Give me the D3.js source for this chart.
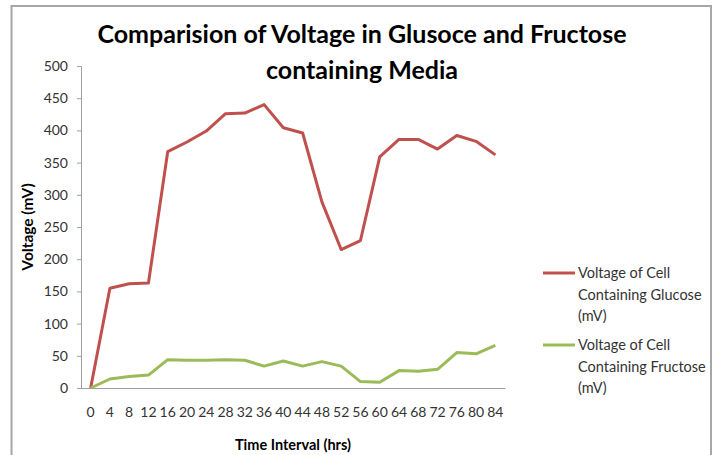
<!DOCTYPE html>
<html>
<head>
<meta charset="utf-8">
<script src="https://cdn.jsdelivr.net/npm/d3@7"></script>
<style>
  html, body { margin: 0; padding: 0; background: #fff; }
  svg { display: block; }
  text { font-family: Lato, "Open Sans", sans-serif; }
</style>
</head>
<body>
<svg id="chart" width="717" height="455"></svg>
<script>
const hours = [0, 4, 8, 12, 16, 20, 24, 28, 32, 36, 40, 44, 48, 52, 56, 60, 64, 68, 72, 76, 80, 84];
const glucose = [0, 155, 162, 163, 367, 382, 399, 426, 427, 440, 404, 396, 289, 215, 229, 359, 386, 386, 371, 392, 383, 362];
const fructose = [0, 14, 18, 20, 44, 43, 43, 44, 43, 34, 42, 34, 41, 34, 10, 9, 27, 26, 29, 55, 53, 66];
const yTicks = [0, 50, 100, 150, 200, 250, 300, 350, 400, 450, 500];
const seriesNames = ["Voltage of Cell Containing Glucose (mV)", "Voltage of Cell Containing Fructose (mV)"];
const seriesLegendLines = [["Voltage of Cell", "Containing Glucose", "(mV)"], ["Voltage of Cell", "Containing Fructose", "(mV)"]];
const colors = ["#C0504D", "#9BBB59"];
const titleLines = ["Comparision of Voltage in Glusoce and Fructose", "containing Media"];

const svg = d3.select("#chart");

// outer border (top, left, right)
svg.append("path")
  .attr("d", "M11.5,460 L11.5,6 L711,6 L711,460")
  .attr("fill", "none").attr("stroke", "#a6a6a6").attr("stroke-width", 2);

const plot = { left: 81, right: 505, top: 66, bottom: 388 };

const x = d3.scaleBand().domain(hours).range([plot.left, plot.right]);
const y = d3.scaleLinear().domain([0, 500]).range([plot.bottom, plot.top]);

// y axis
const yAxis = d3.axisLeft(y).tickValues(yTicks).tickSize(4).tickPadding(9);
const gy = svg.append("g").attr("transform", `translate(${plot.left},0)`).call(yAxis);
gy.select(".domain").attr("stroke", "#a0a0a0");
gy.selectAll(".tick line").attr("stroke", "#a0a0a0");
gy.selectAll(".tick text").attr("font-size", 14).attr("fill", "#333").style("font-family", "Lato, sans-serif");

// x axis
const xAxis = d3.axisBottom(x).tickSize(0).tickPadding(19);
const gx = svg.append("g").attr("transform", `translate(0,${plot.bottom})`).call(xAxis);
gx.select(".domain").attr("stroke", "#a0a0a0");
gx.selectAll(".tick text").attr("font-size", 14).attr("fill", "#333").style("font-family", "Lato, sans-serif");

// lines
const line = d3.line().x((d, i) => x(hours[i]) + x.bandwidth() / 2).y(d => y(d));
[glucose, fructose].forEach((s, k) => {
  svg.append("path").datum(s)
    .attr("d", line)
    .attr("fill", "none")
    .attr("stroke", colors[k])
    .attr("stroke-width", 3)
    .attr("stroke-linejoin", "round");
});

// title
svg.append("text").attr("x", 362).attr("y", 43).attr("text-anchor", "middle")
  .attr("font-size", 25).attr("font-weight", "bold").attr("fill", "#000").text(titleLines[0]);
svg.append("text").attr("x", 362).attr("y", 79).attr("text-anchor", "middle")
  .attr("font-size", 25).attr("font-weight", "bold").attr("fill", "#000").text(titleLines[1]);

// axis titles
svg.append("text").attr("transform", "translate(33,227) rotate(-90)").attr("text-anchor", "middle")
  .attr("font-size", 15.5).attr("font-weight", "bold").attr("fill", "#000").text("Voltage (mV)");
svg.append("text").attr("x", 293).attr("y", 450).attr("text-anchor", "middle")
  .attr("font-size", 14.5).attr("font-weight", "bold").attr("fill", "#000").text("Time Interval (hrs)");

// legend
const legendY = [273, 345];
seriesLegendLines.forEach((lines, k) => {
  svg.append("line").attr("x1", 543).attr("x2", 575).attr("y1", legendY[k]).attr("y2", legendY[k])
    .attr("stroke", colors[k]).attr("stroke-width", 3);
  const t = svg.append("text").attr("x", 578).attr("y", legendY[k] + 5)
    .attr("font-size", 14.5).attr("fill", "#333");
  lines.forEach((ln, j) => {
    t.append("tspan").attr("x", 578).attr("dy", j === 0 ? 0 : 21.5).text(ln);
  });
});
</script>
</body>
</html>
